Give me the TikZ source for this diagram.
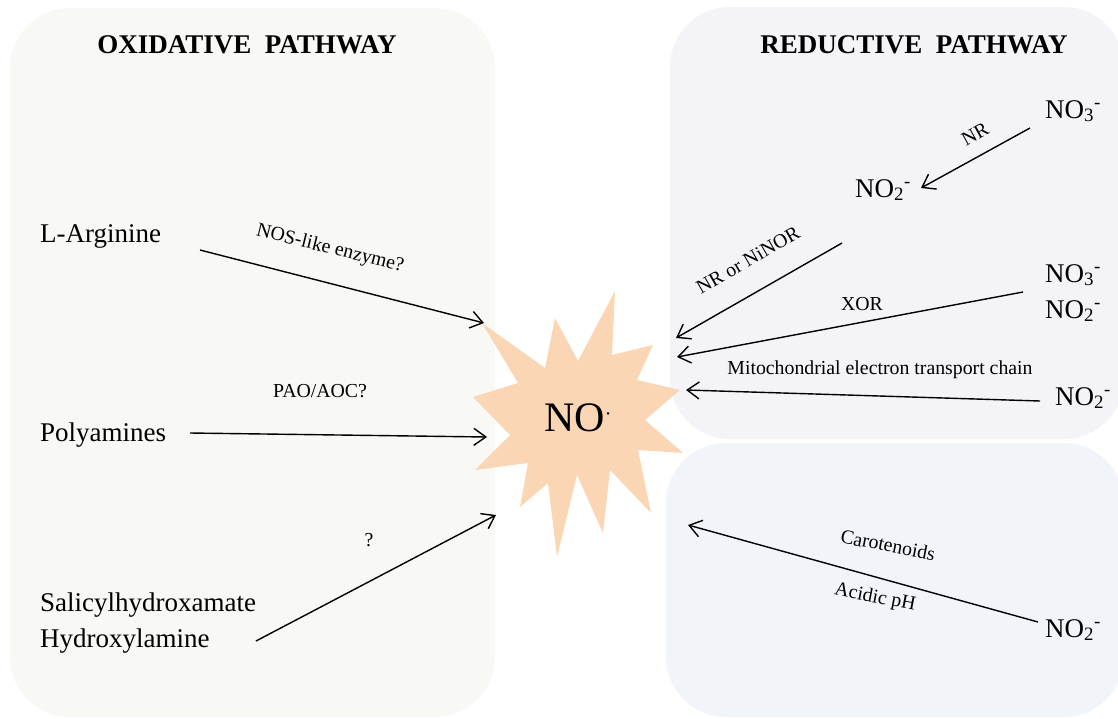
\documentclass[tikz,border=0pt]{standalone}
\usepackage{fontspec}
\setmainfont{Liberation Serif}
\usetikzlibrary{arrows.meta}
\usetikzlibrary{positioning}
\definecolor{ox-bg}{HTML}{F8F9F4}
\definecolor{red-bg}{HTML}{F4F3F8}
\definecolor{acid-bg}{HTML}{F1F4F9}
\definecolor{no-star}{HTML}{FBD6B5}
\tikzset{
  pathtitle/.style={font=\fontsize{27}{30}\selectfont\bfseries, inner sep=0pt, anchor=base},
  species/.style={font=\fontsize{27}{30}\selectfont, inner sep=0pt, anchor=base west},
  enzyme/.style={font=\fontsize{19.8}{22}\selectfont, inner sep=0pt},
  route/.style={-{Straight Barb[length=12pt,width=17pt]}, line width=1.4pt},
  panel/.style={rounded corners=60pt}
}

\begin{document}
\begin{tikzpicture}[x=1pt, y=-1pt]
        \useasboundingbox (0,0) rectangle (1118,718);
        % panels
        \fill[ox-bg, panel] (10,8) rectangle (495,717);
        \fill[red-bg, panel] (670,7) rectangle (1124,439);
        \fill[acid-bg, panel] (666,443) rectangle (1124,717);
        % the radical
        \fill[no-star] (482,323) -- (545,368) -- (555,318) -- (578,361) -- (615,291) -- (612,355)
            -- (653,345) -- (637,380) -- (680,390) -- (645,420) -- (683,453) -- (638,450)
            -- (651,513) -- (610,470) -- (603,533) -- (577,475) -- (557,557) -- (548,483)
            -- (520,507) -- (528,463) -- (475,470) -- (510,435) -- (473,397) -- (518,383) -- cycle;
        \node[font=\fontsize{42}{42}\selectfont, inner sep=0pt, anchor=base west] (no) at (544,431)
            {NO{\fontsize{20}{20}\selectfont\raisebox{11pt}{·}}};
        \node[pathtitle] (oxt) at (247,53) {OXIDATIVE\ \ PATHWAY};
        \node[pathtitle] (redt) at (914,53) {REDUCTIVE\ \ PATHWAY};
        % substrates
        \node[species] (arg) at (40,242) {L-Arginine};
        \node[species] (pa) at (40,441) {Polyamines};
        \node[species] (shx) at (40,611) {Salicylhydroxamate};
        \node[species] (ha) at (40,647) {Hydroxylamine};
        \node[species] (nitA) at (1045,118) {NO\textsubscript{3}\textsuperscript{-}};
        \node[species] (nitB) at (855,197) {NO\textsubscript{2}\textsuperscript{-}};
        \node[species] (nitC) at (1045,282) {NO\textsubscript{3}\textsuperscript{-}};
        \node[species] (nitD) at (1045,318) {NO\textsubscript{2}\textsuperscript{-}};
        \node[species] (nitE) at (1055,405) {NO\textsubscript{2}\textsuperscript{-}};
        \node[species] (nitF) at (1045,637) {NO\textsubscript{2}\textsuperscript{-}};
        % arrow ends
        \coordinate (arg-out) at (200,250);   \coordinate (arg-in) at (484,323);
        \coordinate (pa-out) at (190,433);    \coordinate (pa-in) at (487,437);
        \coordinate (ha-out) at (256,641);    \coordinate (ha-in) at (496,515);
        \coordinate (nitA-out) at (1030,128); \coordinate (nitB-in) at (921,188);
        \coordinate (nitB-out) at (842,243);  \coordinate (nr-in) at (676,338);
        \coordinate (nitD-out) at (1023,292); \coordinate (xor-in) at (677,357);
        \coordinate (nitE-out) at (1040,401); \coordinate (mito-in) at (686,390);
        \coordinate (nitF-out) at (1038,622); \coordinate (acid-in) at (688,525);
        \draw[route] (arg-out) -- (arg-in);
        \draw[route] (pa-out) -- (pa-in);
        \draw[route] (ha-out) -- (ha-in);
        \draw[route] (nitA-out) -- (nitB-in);
        \draw[route] (nitB-out) -- (nr-in);
        \draw[route] (nitD-out) -- (xor-in);
        \draw[route] (nitE-out) -- (mito-in);
        \draw[route] (nitF-out) -- (acid-in);
        % enzymes
        \node[enzyme, rotate=-14] (nosl) at (330,249) {NOS-like enzyme?};
        \node[enzyme] (paol) at (320,391) {PAO/AOC?};
        \node[enzyme] (unkl) at (369,540) {?};
        \node[enzyme, rotate=29] (nrl) at (975,134) {NR};
        \node[enzyme, rotate=30] (ninorl) at (748,260) {NR or NiNOR};
        \node[enzyme] (xorl) at (862,304) {XOR};
        \node[enzyme] (mitol) at (880,370) {Mitochondrial electron transport chain};
        \node[enzyme, rotate=-11] (carl) at (888,545) {Carotenoids};
        \node[enzyme, rotate=-11] (acidl) at (875,598) {Acidic pH};
\end{tikzpicture}
\end{document}
